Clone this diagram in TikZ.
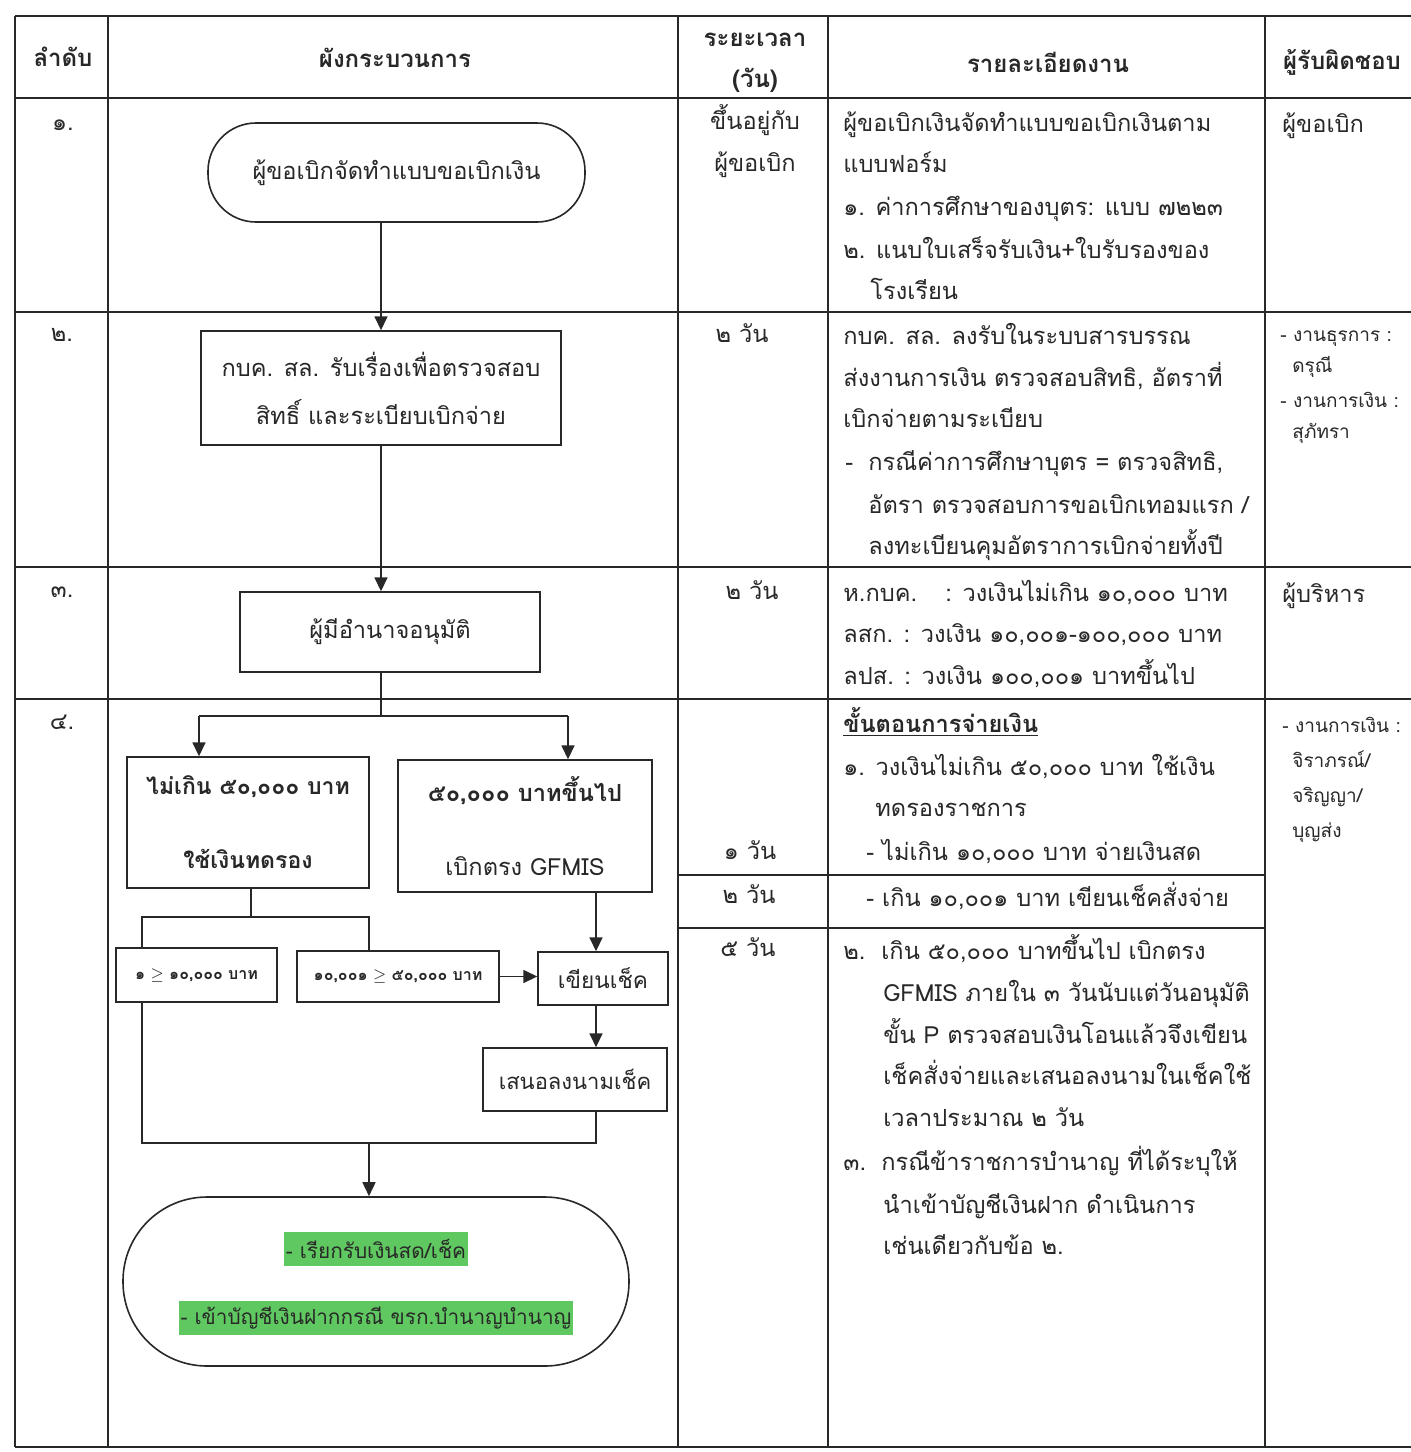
\documentclass[tikz,border=0pt]{standalone}
\usepackage{fontspec}
\usetikzlibrary{arrows.meta,fit,calc}
\newfontfamily\thai[Script=Thai]{Loma}
\definecolor{hlgreen}{RGB}{96,200,96}
\definecolor{ink}{RGB}{40,40,40}
\begin{document}
\begin{tikzpicture}[x=0.5pt,y=-0.5pt,
  every node/.style={font=\thai\fontsize{11.8}{14}\selectfont, inner sep=0pt, text=ink},
  grid/.style={line width=0.6pt, draw=ink},
  fbox/.style={draw=ink, line width=0.7pt, fill=white, inner sep=0pt, align=center},
  term/.style={draw=ink, line width=0.8pt, fill=white, inner sep=0pt, align=center},
  conn/.style={draw=ink, line width=0.9pt},
  arr/.style={draw=ink, line width=0.8pt, -{Triangle[length=7pt,width=6.5pt]}},
  txt/.style={anchor=mid west},
  ctr/.style={anchor=mid},
  small/.style={font=\thai\fontsize{9.5}{11}\selectfont},
  hdr/.style={font=\thai\bfseries\fontsize{12}{14}\selectfont},
  tiny/.style={font=\thai\bfseries\fontsize{8}{10}\selectfont},
  hl/.style={fill=hlgreen, inner xsep=1pt, minimum height=17pt, font=\thai\fontsize{10.4}{12}\selectfont}
]
\useasboundingbox (0,0) rectangle (1411,1452);
\fill[white] (0,0) rectangle (1411,1452);

% ---------- grid ----------
\foreach \yy in {16,98,312,567,699,1447}
  \draw[grid] (15,\yy) -- (1411,\yy);
\foreach \xx in {15,108,678,828,1265}
  \draw[grid] (\xx,16) -- (\xx,1447);
\draw[grid] (678,875) -- (1265,875);
\draw[grid] (678,928) -- (1265,928);

% ---------- headers ----------
\node[hdr] (h1) at (63,57) {ลำดับ};
\node[hdr] (h2) at (395,58) {ผังกระบวนการ};
\node[hdr] (h3a) at (755,40) {ระยะเวลา};
\node[hdr] (h3b) at (755,80) {(วัน)};
\node[hdr] (h4) at (1048,62) {รายละเอียดงาน};
\node[hdr] (h5) at (1342,62) {ผู้รับผิดชอบ};

% ---------- row numbers ----------
\node (n1) at (63,125) {๑.};
\node (n2) at (62,335) {๒.};
\node (n3) at (62,592) {๓.};
\node (n4) at (62,722) {๔.};

% ---------- time column ----------
\node[ctr] (t1a) at (755,125) {ขึ้นอยู่กับ};
\node[ctr] (t1b) at (755,167) {ผู้ขอเบิก};
\node[ctr] (t2) at (742,338) {๒ วัน};
\node[ctr] (t3) at (752,595) {๒ วัน};
\node[ctr] (t4a) at (750,855) {๑ วัน};
\node[ctr] (t4b) at (749,899) {๒ วัน};
\node[ctr] (t4c) at (748,952) {๕ วัน};

% ---------- details ----------
\node[txt] (d1a) at (843,127) {ผู้ขอเบิกเงินจัดทำแบบขอเบิกเงินตาม};
\node[txt] (d1b) at (843,168) {แบบฟอร์ม};
\node[txt] (d1c) at (843,211) {๑. ค่าการศึกษาของบุตร: แบบ ๗๒๒๓};
\node[txt] (d1d) at (843,254) {๒. แนบใบเสร็จรับเงิน+ใบรับรองของ};
\node[txt] (d1e) at (870,295) {โรงเรียน};

\node[txt] (d2a) at (843,340) {กบค. สล. ลงรับในระบบสารบรรณ};
\node[txt] (d2b) at (843,382) {ส่งงานการเงิน ตรวจสอบสิทธิ, อัตราที่};
\node[txt] (d2c) at (843,423) {เบิกจ่ายตามระเบียบ};
\node[txt] (d2d) at (845,466) {-};
\node[txt] (d2e) at (868,466) {กรณีค่าการศึกษาบุตร = ตรวจสิทธิ,};
\node[txt] (d2f) at (868,509) {อัตรา ตรวจสอบการขอเบิกเทอมแรก /};
\node[txt] (d2g) at (868,550) {ลงทะเบียนคุมอัตราการเบิกจ่ายทั้งปี};

\node[txt] (d3a) at (843,597) {ห.กบค.\hspace{1.2em}: วงเงินไม่เกิน ๑๐,๐๐๐ บาท};
\node[txt] (d3b) at (843,638) {ลสก. : วงเงิน ๑๐,๐๐๑-๑๐๐,๐๐๐ บาท};
\node[txt] (d3c) at (843,680) {ลปส. : วงเงิน ๑๐๐,๐๐๑ บาทขึ้นไป};

\node[txt] (d4a) at (843,728) {\bfseries\underline{ขั้นตอนการจ่ายเงิน}};
\node[txt] (d4b) at (843,771) {๑. วงเงินไม่เกิน ๕๐,๐๐๐ บาท ใช้เงิน};
\node[txt] (d4c) at (875,812) {ทดรองราชการ};
\node[txt] (d4d) at (866,856) {- ไม่เกิน ๑๐,๐๐๐ บาท จ่ายเงินสด};
\node[txt] (d4e) at (866,902) {- เกิน ๑๐,๐๐๑ บาท เขียนเช็คสั่งจ่าย};
\node[txt] (d4f) at (843,955) {๒.};
\node[txt] (d4g) at (881,955) {เกิน ๕๐,๐๐๐ บาทขึ้นไป เบิกตรง};
\node[txt] (d4h) at (883,997) {GFMIS ภายใน ๓ วันนับแต่วันอนุมัติ};
\node[txt] (d4i) at (883,1039) {ขั้น P ตรวจสอบเงินโอนแล้วจึงเขียน};
\node[txt] (d4j) at (883,1080) {เช็คสั่งจ่ายและเสนอลงนามในเช็คใช้};
\node[txt] (d4k) at (883,1122) {เวลาประมาณ ๒ วัน};
\node[txt] (d4l) at (843,1166) {๓.};
\node[txt] (d4m) at (881,1166) {กรณีข้าราชการบำนาญ ที่ได้ระบุให้};
\node[txt] (d4n) at (883,1209) {นำเข้าบัญชีเงินฝาก ดำเนินการ};
\node[txt] (d4o) at (883,1250) {เช่นเดียวกับข้อ ๒.};

% ---------- responsible ----------
\node[txt] (r1) at (1282,128) {ผู้ขอเบิก};
\node[txt,small] (r2a) at (1280,337) {- งานธุรการ :};
\node[txt,small] (r2b) at (1292,368) {ดรุณี};
\node[txt,small] (r2c) at (1280,403) {- งานการเงิน :};
\node[txt,small] (r2d) at (1292,434) {สุภัทรา};
\node[txt] (r3) at (1282,598) {ผู้บริหาร};
\node[txt,small] (r4a) at (1282,728) {- งานการเงิน :};
\node[txt,small] (r4b) at (1292,763) {จิราภรณ์/};
\node[txt,small] (r4c) at (1292,798) {จริญญา/};
\node[txt,small] (r4d) at (1292,833) {บุญส่ง};

% ---------- flowchart ----------
\node[term, rounded corners=24pt, fit={(208,123) (585,222)}] (f1) {};
\node (f1t) at (f1.center) {ผู้ขอเบิกจัดทำแบบขอเบิกเงิน};
\node[fbox, fit={(201,331) (561,445)}] (f2) {};
\node[align=center, font=\thai\fontsize{11.8}{24}\selectfont] (f2t) at (f2.center) {กบค. สล. รับเรื่องเพื่อตรวจสอบ\\สิทธิ์ และระเบียบเบิกจ่าย};
\node[fbox, fit={(240,592) (540,672)}] (f3) {};
\node (f3t) at (f3.center) {ผู้มีอำนาจอนุมัติ};
\node[fbox, fit={(127,757) (369,888)}] (f4a) {};
\node[align=center, font=\thai\bfseries\fontsize{11.5}{37}\selectfont] (f4at) at (f4a.center) {ไม่เกิน ๕๐,๐๐๐ บาท\\ใช้เงินทดรอง};
\node[fbox, fit={(398,760) (652,892)}] (f4b) {};
\node[align=center, font=\thai\fontsize{11.8}{37}\selectfont] (f4bt) at (f4b.center) {{\bfseries ๕๐,๐๐๐ บาทขึ้นไป}\\เบิกตรง GFMIS};
\node[fbox, fit={(116,948) (277,1002)}] (f5a) {};
\node[tiny] (f5at) at (f5a.center) {๑ $\geq$ ๑๐,๐๐๐ บาท};
\node[fbox, fit={(297,951) (499,1002)}] (f5b) {};
\node[tiny] (f5bt) at (f5b.center) {๑๐,๐๐๑ $\geq$ ๕๐,๐๐๐ บาท};
\node[fbox, fit={(538,952) (668,1005)}] (f6) {};
\node[font=\thai\fontsize{11.3}{13}\selectfont] (f6t) at (f6.center) {เขียนเช็ค};
\node[fbox, fit={(483,1048) (667,1111)}] (f7) {};
\node[font=\thai\fontsize{11}{13}\selectfont] (f7t) at (f7.center) {เสนอลงนามเช็ค};
\node[term, rounded corners=42pt, fit={(123,1197) (629,1366)}] (f8) {};
\node[hl] (g1) at (376,1249) {- เรียกรับเงินสด/เช็ค};
\node[hl] (g2) at (376,1318) {- เข้าบัญชีเงินฝากกรณี ขรก.บำนาญบำนาญ};

% ---------- connectors ----------
\coordinate (a4a) at (199,716);
\coordinate (a4b) at (568,716);
\coordinate (j4) at (251,917);
\coordinate (j5a) at (142,917);
\coordinate (j5b) at (369,917);
\coordinate (c6) at (596,930);
\coordinate (jb) at (369,1143);

\draw[arr] (f1.south -| f2.north) -- (f2.north);
\draw[arr] (f2.south) -- (f2.south |- f3.north);
\draw[conn] (f2.south |- f3.south) -- (f2.south |- a4a);
\draw[conn] (a4a) -- (a4b);
\draw[arr] (a4a) -- (a4a |- f4a.north);
\draw[arr] (a4b) -- (a4b |- f4b.north);
\draw[conn] (f4a.south -| j4) -- (j4);
\draw[conn] (j5a |- f5a.north) -- (j5a) -- (j5b) -- (j5b |- f5b.north);
\draw[arr] (f4b.south -| c6) -- (f6.north -| c6);
\draw[arr] (f5b.east) -- (f5b.east -| f6.west);
\draw[arr] (f6.south -| c6) -- (f7.north -| c6);
\draw[conn] (f5a.south -| j5a) -- (j5a |- jb) -- (c6 |- jb) -- (f7.south -| c6);
\draw[arr] (jb) -- (jb |- f8.north);
\end{tikzpicture}
\end{document}
